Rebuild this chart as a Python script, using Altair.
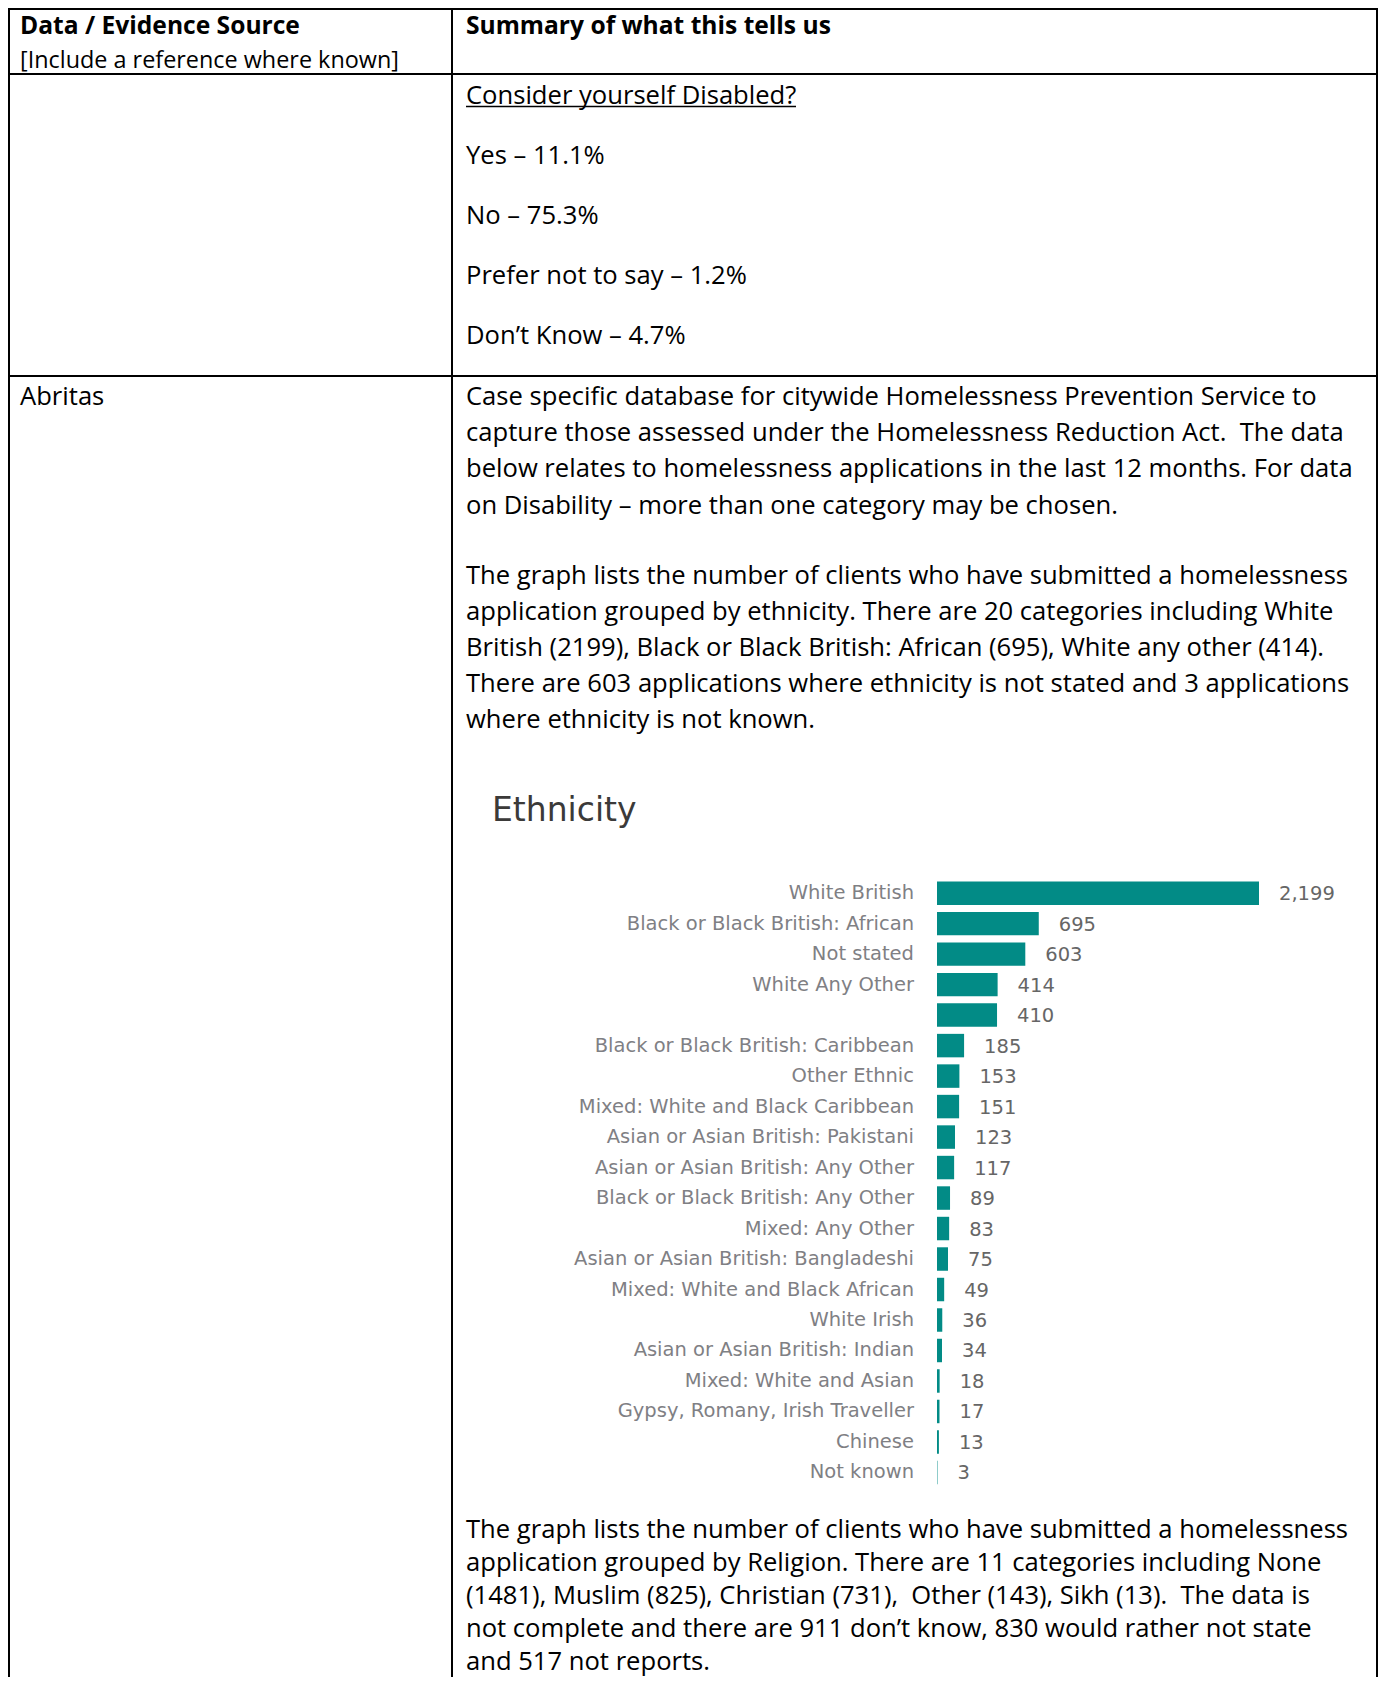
import altair as alt
import pandas as pd

# ---------------- data ----------------
categories = [
    "White British", "Black or Black British: African", "Not stated", "White Any Other", " ",
    "Black or Black British: Caribbean", "Other Ethnic", "Mixed: White and Black Caribbean",
    "Asian or Asian British: Pakistani", "Asian or Asian British: Any Other",
    "Black or Black British: Any Other", "Mixed: Any Other", "Asian or Asian British: Bangladeshi",
    "Mixed: White and Black African", "White Irish", "Asian or Asian British: Indian",
    "Mixed: White and Asian", "Gypsy, Romany, Irish Traveller", "Chinese", "Not known",
]
counts = [2199, 695, 603, 414, 410, 185, 153, 151, 123, 117, 89, 83, 75, 49, 36, 34, 18, 17, 13, 3]

header_left = "Data / Evidence Source"
header_left_sub = "[Include a reference where known]"
header_right = "Summary of what this tells us"
disabled_title = "Consider yourself Disabled?"
disabled_lines = ["Yes – 11.1%", "No – 75.3%", "Prefer not to say – 1.2%", "Don’t Know – 4.7%"]
source_name = "Abritas"
para1 = [
    "Case specific database for citywide Homelessness Prevention Service to",
    "capture those assessed under the Homelessness Reduction Act.\u00a0 The data",
    "below relates to homelessness applications in the last 12 months. For data",
    "on Disability – more than one category may be chosen.",
]
para2 = [
    "The graph lists the number of clients who have submitted a homelessness",
    "application grouped by ethnicity. There are 20 categories including White",
    "British (2199), Black or Black British: African (695), White any other (414).",
    "There are 603 applications where ethnicity is not stated and 3 applications",
    "where ethnicity is not known.",
]
para3 = [
    "The graph lists the number of clients who have submitted a homelessness",
    "application grouped by Religion. There are 11 categories including None",
    "(1481), Muslim (825), Christian (731),\u00a0 Other (143), Sikh (13).\u00a0 The data is",
    "not complete and there are 911 don’t know, 830 would rather not state",
    "and 517 not reports.",
]
chart_title = "Ethnicity"

# ---------------- layout ----------------
W, H = 1370, 1669
DOC_FONT = "Open Sans"
DOC_SIZE = 25.6
CH_FONT = "DejaVu Sans"
TEAL = "#028B86"

one = pd.DataFrame({"k": [0]})


def text(t, x, y, size=DOC_SIZE, weight="normal", font=DOC_FONT, color="#000000", lh=None):
    kw = {}
    if isinstance(t, list):
        t = "\n".join(t)
        kw["lineBreak"] = "\n"
        kw["lineHeight"] = lh
    return alt.Chart(one).mark_text(
        align="left", baseline="alphabetic", font=font, fontSize=size,
        fontWeight=weight, color=color, **kw
    ).encode(x=alt.value(x), y=alt.value(y), text=alt.value(t))


def hline(y, x1, x2, w=2):
    return alt.Chart(one).mark_rule(color="#000000", strokeWidth=w).encode(
        x=alt.value(x1), x2=alt.value(x2), y=alt.value(y))


def vline(x, y1, y2, w=2):
    return alt.Chart(one).mark_rule(color="#000000", strokeWidth=w).encode(
        x=alt.value(x), y=alt.value(y1), y2=alt.value(y2))


layers = [
    hline(1, 0, W), hline(66, 0, W), hline(368, 0, W),
    vline(1, 0, H), vline(444, 0, H), vline(W - 1, 0, H),
    text(header_left, 12, 26, size=24.6, weight="bold"),
    text(header_left_sub, 12, 59.5, size=23.4),
    text(header_right, 458, 26, size=24.6, weight="bold"),
    text(disabled_title, 458, 95.5),
    hline(98.5, 458, 788, w=1.5),
    text(source_name, 12, 397),
    text(para1, 458, 397, lh=36.2),
    text(para2, 458, 576, lh=36),
    text(para3, 458, 1530, lh=33.0),
    text(chart_title, 484, 813, size=33, font=CH_FONT, color="#3b3a39"),
]
for t, y in zip(disabled_lines, [155.5, 215.5, 275.5, 335.5]):
    layers.append(text(t, 458, y))

# ---------------- bar chart ----------------
df = pd.DataFrame({"ethnicity": categories, "count": counts})
xs = alt.Scale(domain=[0, 2199], range=[929, 1251], nice=False)
ys = alt.Scale(range=[869.9, 1479.7], paddingInner=0.23, paddingOuter=0.115)
base = alt.Chart(df).transform_calculate(zero="0")
yenc = alt.Y("ethnicity:N", scale=ys, sort=categories, axis=None)
bars = base.mark_bar(color=TEAL).encode(
    x=alt.X("count:Q", scale=xs, axis=None),
    y=yenc,
)
cat_labels = base.mark_text(align="right", baseline="middle", dx=-23, font=CH_FONT,
                            fontSize=19.5, color="#7f8084").encode(
    x=alt.X("zero:Q", scale=xs, axis=None),
    y=yenc,
    text="ethnicity:N",
)
val_labels = base.mark_text(align="left", baseline="middle", dx=20, dy=1, font=CH_FONT,
                            fontSize=19.5, color="#666666").encode(
    x=alt.X("count:Q", scale=xs, axis=None),
    y=yenc,
    text=alt.Text("count:Q", format=","),
)
layers += [bars, cat_labels, val_labels]

chart = alt.layer(*layers).properties(
    width=W, height=H,
    autosize=alt.AutoSizeParams(type="none"),
    padding=0,
    background="#ffffff",
).configure_view(stroke=None)

chart.save("out.html", embed_options={"renderer": "svg", "actions": False})
